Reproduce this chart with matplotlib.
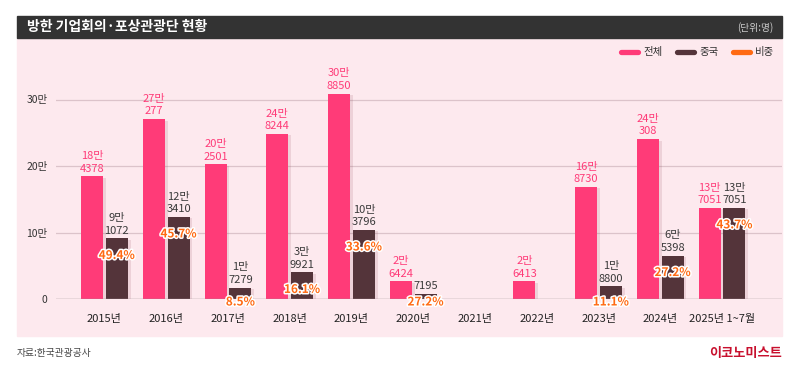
import matplotlib
matplotlib.use("Agg")
import matplotlib.pyplot as plt
from matplotlib.patches import Rectangle
from matplotlib.lines import Line2D
import matplotlib.patheffects as pe

plt.rcParams['font.family'] = ['Noto Sans CJK KR', 'DejaVu Sans']

# 데이터
years = ["2015년", "2016년", "2017년", "2018년", "2019년", "2020년",
         "2021년", "2022년", "2023년", "2024년", "2025년 1~7월"]
total = [184378, 270277, 202501, 248244, 308850, 26424, 0, 26413, 168730, 240308, 137051]
china = [91072, 123410, 17279, 39921, 103796, 7195, 0, 0, 18800, 65398, 137051]
ratio = ["49.4%", "45.7%", "8.5%", "16.1%", "33.6%", "27.2%", "", "", "11.1%", "27.2%", "43.7%"]
yticks = [0, 100000, 200000, 300000]
ytick_labels = ["0", "10만", "20만", "30만"]

PINK = "#FF3B78"
BROWN = "#54343A"
ORANGE = "#FF6A13"
PANEL = "#FDE9EE"


def fmt(v):
    if v >= 10000:
        return f"{v // 10000}만\n{v % 10000}"
    return str(v)


W, H = 800, 371
fig = plt.figure(figsize=(8, 3.71), dpi=100)


def px(x):
    return x / W


def py(y):
    return 1 - y / H


# 배경 패널, 제목 바
fig.patches.append(Rectangle((px(17), py(336)), px(782) - px(17), py(38) - py(336),
                             transform=fig.transFigure, color=PANEL, zorder=-2))
fig.patches.append(Rectangle((px(17), py(38)), px(782) - px(17), py(16) - py(38),
                             transform=fig.transFigure, color="#333333", zorder=-2))
fig.text(px(27), py(27.5), "방한 기업회의·포상관광단 현황", color="white", fontsize=10,
         fontweight="bold", va="center", ha="left")
fig.text(px(773), py(27.5), "(단위:명)", color="#cccccc", fontsize=7, va="center", ha="right")

# 범례
for x0, col, lab in [(618, PINK, "전체"), (674, BROWN, "중국"), (730, ORANGE, "비중")]:
    fig.add_artist(Line2D([px(x0 + 2.5), px(x0 + 19.5)], [py(52), py(52)], transform=fig.transFigure,
                          lw=3.8, color=col, solid_capstyle="round"))
    fig.text(px(x0 + 25), py(52), lab, fontsize=7.5, color="#333333", va="center", ha="left")

# 출처, 로고
fig.text(px(17), py(353), "자료:한국관광공사", fontsize=7, color="#444444", va="center", ha="left")
fig.text(px(782), py(353), "이코노미스트", fontsize=9.5, color="#C8102E", fontweight="bold",
         va="center", ha="right")

# 차트
y_top = 330000
ax_bottom = py(299)
ax_top = py(299 - y_top / 100000 * 66.5)
ax = fig.add_axes([px(56), ax_bottom, px(782) - px(56), ax_top - ax_bottom])
ax.set_facecolor("none")
ax.set_ylim(0, y_top)
ax.set_xlim(-0.785, 10.97)

xs = list(range(len(years)))
off = 0.2
bw = 0.356
shadow = [pe.SimplePatchShadow(offset=(2, -1), shadow_rgbFace="#7a2a40", alpha=0.12), pe.Normal()]
tb = ax.bar([x - off for x in xs], total, width=bw, color=PINK, zorder=3)
cb = ax.bar([x + off for x in xs], china, width=bw, color=BROWN, zorder=3)
for b in list(tb) + list(cb):
    b.set_path_effects(shadow)

for x, v in zip(xs, total):
    if v > 0:
        ax.annotate(fmt(v), (x - off, v), xytext=(0, 2), textcoords="offset points",
                    ha="center", va="bottom", fontsize=8, color=PINK, linespacing=1.3)
for x, v in zip(xs, china):
    if v > 0:
        ax.annotate(fmt(v), (x + off, v), xytext=(0, 2), textcoords="offset points",
                    ha="center", va="bottom", fontsize=8, color="#3a3a3a", linespacing=1.3)

px_per_unit = 66.5 / 100000
for x, v, r in zip(xs, china, ratio):
    if r:
        ypix = max(v * px_per_unit - 17, -3)
        ax.text(x + off, ypix / px_per_unit, r, ha="center", va="center", fontsize=8.5,
                color=ORANGE, fontweight="bold", zorder=5, clip_on=False,
                path_effects=[pe.withStroke(linewidth=2.2, foreground="white")])

ax.set_yticks(yticks)
ax.set_yticklabels(ytick_labels)
ax.set_xticks(xs)
ax.set_xticklabels(years)
ax.tick_params(axis="y", length=0, pad=6, labelsize=7.5, labelcolor="#333333")
ax.tick_params(axis="x", length=0, pad=11, labelsize=8, labelcolor="#222222")
for t in ax.get_xticklabels():
    t.set_fontweight("medium")
for y in yticks[1:]:
    ax.axhline(y, color="#DCC3CA", lw=0.9, zorder=1)
ax.axhline(0, color="#9C8E92", lw=1, zorder=4)
for s in ax.spines.values():
    s.set_visible(False)

fig.savefig("out.png", dpi=100)
